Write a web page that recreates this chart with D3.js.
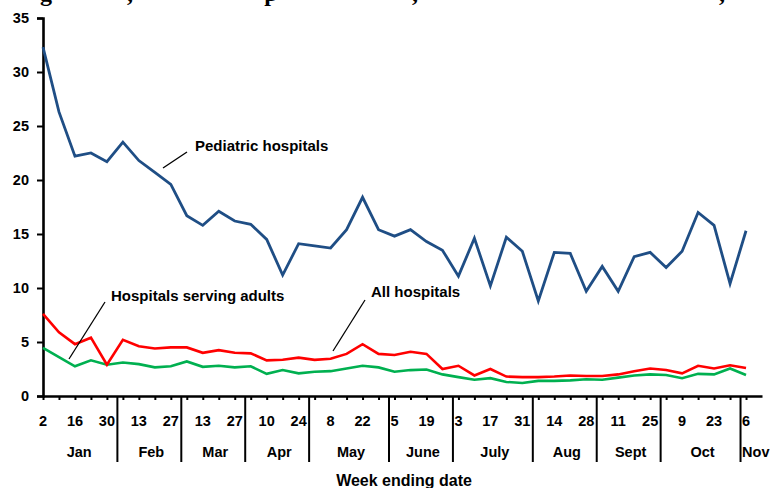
<!DOCTYPE html>
<html>
<head>
<meta charset="utf-8">
<script src="https://cdn.jsdelivr.net/npm/d3@7"></script>
<style>
  html, body { margin: 0; padding: 0; background: #fff; }
  svg { display: block; }
  text { font-family: "Liberation Sans", Arial, sans-serif; font-weight: bold; fill: #000; }
</style>
</head>
<body>
<svg id="chart" width="773" height="488"></svg>
<script>
// ---- data ----
const weekDays = [2,9,16,23,30, 6,13,20,27, 6,13,20,27, 3,10,17,24, 1,8,15,22,29,
                  5,12,19,26, 3,10,17,24,31, 7,14,21,28, 4,11,18,25, 2,9,16,23,30, 6];
const months = ["Jan","Feb","Mar","Apr","May","June","July","Aug","Sept","Oct","Nov"];
const weeksPerMonth = [5,4,4,4,5,4,5,4,4,5,1];
const yTicks = [0,5,10,15,20,25,30,35];

const pediatric = [32.3,26.3,22.2,22.5,21.7,23.5,21.8,20.7,19.6,16.7,15.8,17.1,16.2,15.9,14.5,11.2,14.1,13.9,13.7,15.4,18.4,15.4,
                   14.8,15.4,14.3,13.5,11.1,14.6,10.2,14.7,13.4,8.8,13.3,13.2,9.7,12.0,9.7,12.9,13.3,11.9,13.4,17.0,15.8,10.4,15.3];
const allHospitals = [7.6,5.9,4.8,5.4,2.9,5.2,4.6,4.4,4.5,4.5,4.0,4.25,4.0,3.95,3.3,3.35,3.55,3.35,3.45,3.9,4.8,3.9,
                      3.8,4.1,3.9,2.5,2.8,1.9,2.5,1.8,1.75,1.75,1.8,1.9,1.85,1.85,2.0,2.3,2.55,2.4,2.1,2.8,2.55,2.85,2.6];
const adultHospitals = [4.45,3.6,2.75,3.3,2.9,3.1,2.95,2.65,2.75,3.2,2.7,2.8,2.65,2.75,2.05,2.4,2.1,2.25,2.3,2.55,2.8,2.65,
                        2.25,2.4,2.45,2.0,1.75,1.5,1.65,1.3,1.2,1.4,1.4,1.45,1.55,1.5,1.7,1.9,2.0,1.95,1.65,2.05,2.0,2.55,1.95];

// ---- layout ----
const svg = d3.select("#chart");
const x = d3.scaleLinear().domain([0, weekDays.length]).range([43, 762]);
const y = d3.scaleLinear().domain([0, 35]).range([396, 18]);

// clipped title line at top (only descenders visible, as in the reference)
const titleGlyphs = [["g",46],[",",130],["p",271],[",",415],[",",722]];
svg.selectAll("text.title").data(titleGlyphs).join("text")
  .attr("class","title")
  .attr("x", d => d[1]).attr("y", 0.5)
  .attr("text-anchor","middle")
  .style("font-family","'Liberation Serif', 'Times New Roman', serif")
  .style("font-size","24px")
  .text(d => d[0]);

// y axis
const yAxis = svg.append("g").attr("transform","translate(43,0)")
  .call(d3.axisLeft(y).tickValues(yTicks).tickSize(6).tickPadding(8).tickFormat(d3.format("d")));
yAxis.select(".domain").attr("stroke","#000").attr("stroke-width",2.6);
yAxis.selectAll(".tick line").attr("stroke","#000").attr("stroke-width",2);
yAxis.selectAll(".tick text").style("font-size","14.5px").style("font-family","'Liberation Sans', Arial, sans-serif").style("font-weight","bold").attr("fill","#000");

// x axis
const xAxis = svg.append("g").attr("transform","translate(0,396)")
  .call(d3.axisBottom(x).tickValues(d3.range(weekDays.length)).tickSize(4).tickSizeOuter(0).tickFormat(""));
xAxis.select(".domain").attr("stroke","#000").attr("stroke-width",2.6);
xAxis.selectAll(".tick line").attr("stroke","#000").attr("stroke-width",2);

// week labels every other week
svg.selectAll("text.wk").data(weekDays.map((d,i)=>({d,i})).filter(o => o.i % 2 === 0)).join("text")
  .attr("class","wk")
  .attr("x", o => x(o.i)).attr("y", 426)
  .attr("text-anchor","middle")
  .style("font-size","14.5px")
  .text(o => o.d);

// month separators and labels
const starts = [];
let acc = 0;
weeksPerMonth.forEach(n => { starts.push(acc); acc += n; });
const sepX = starts.slice(1).map(s => x(s) - 5.5);
svg.selectAll("line.sep").data(sepX).join("line")
  .attr("class","sep")
  .attr("x1", d => d).attr("x2", d => d)
  .attr("y1", 397).attr("y2", 462)
  .attr("stroke","#000").attr("stroke-width",2);
const bounds = [x(0) - 6].concat(sepX).concat([773]);
svg.selectAll("text.month").data(months).join("text")
  .attr("class","month")
  .attr("x", (m,i) => (bounds[i] + bounds[i+1]) / 2 + (i === months.length-1 ? -1 : 2))
  .attr("y", 457)
  .attr("text-anchor","middle")
  .style("font-size","14.5px")
  .text(m => m);

svg.append("text")
  .attr("x", 404).attr("y", 486)
  .attr("text-anchor","middle")
  .style("font-size","16px")
  .text("Week ending date");

// lines
const line = d3.line().x((d,i) => x(i)).y(d => y(d));
const series = [
  {vals: adultHospitals, color: "#00B050", w: 2.6},
  {vals: allHospitals, color: "#FF0000", w: 2.6},
  {vals: pediatric, color: "#1F4E85", w: 2.8}
];
svg.selectAll("path.series").data(series).join("path")
  .attr("class","series")
  .attr("d", s => line(s.vals))
  .attr("fill","none")
  .attr("stroke", s => s.color)
  .attr("stroke-width", s => s.w)
  .attr("stroke-linejoin","miter");

// annotations
const notes = [
  {text: "Pediatric hospitals", tx: 195, ty: 151, x1: 163, y1: 168, x2: 187, y2: 152},
  {text: "Hospitals serving adults", tx: 111, ty: 301, x1: 69, y1: 359, x2: 105, y2: 302},
  {text: "All hospitals", tx: 371, ty: 297, x1: 333, y1: 351, x2: 365, y2: 300}
];
svg.selectAll("line.note").data(notes).join("line")
  .attr("class","note")
  .attr("x1", d => d.x1).attr("y1", d => d.y1)
  .attr("x2", d => d.x2).attr("y2", d => d.y2)
  .attr("stroke","#000").attr("stroke-width",1.3);
svg.selectAll("text.note").data(notes).join("text")
  .attr("class","note")
  .attr("x", d => d.tx).attr("y", d => d.ty)
  .style("font-size","15px")
  .text(d => d.text);
</script>
</body>
</html>
